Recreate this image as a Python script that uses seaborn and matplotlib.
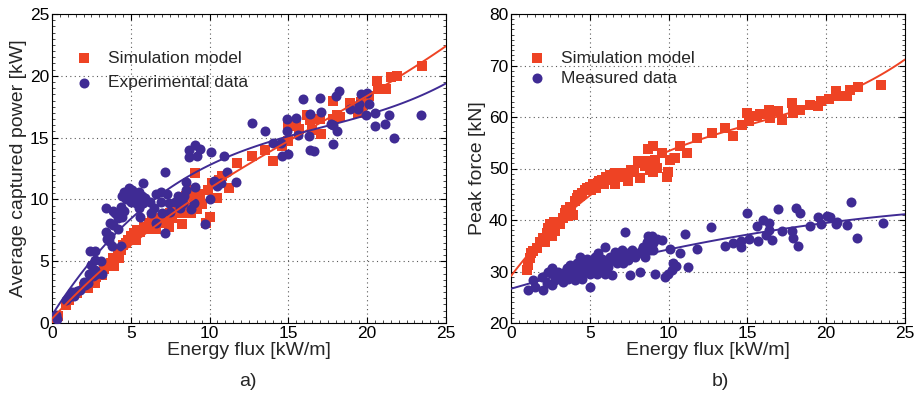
import numpy as np
import pandas as pd
import matplotlib
matplotlib.use("Agg")
import matplotlib.pyplot as plt
import seaborn as sns
from matplotlib.ticker import MultipleLocator

# --- datos ---
# a) potencia media capturada [kW] vs flujo de energia [kW/m]
sim_a_x = [0.15, 0.36, 0.89, 1.1, 1.6, 2.05, 2.26, 2.47, 2.7, 2.78,
           3.2, 3.3, 3.5, 3.73, 3.84, 3.94, 4.16, 4.27, 4.37, 4.48,
           4.68, 4.8, 5.0, 5.2, 5.3, 5.4, 5.6, 5.84, 6.05, 6.15,
           6.37, 6.6, 6.7, 6.9, 7.1, 7.2, 7.42, 7.5, 7.6, 7.85,
           7.95, 8.06, 8.16, 8.27, 8.48, 8.69, 8.8, 9.0, 9.1, 9.1,
           9.2, 9.4, 9.5, 9.75, 10.0, 9.9, 10.17, 10.5, 10.6, 10.8,
           11.2, 11.75, 12.7,
           13.5, 14.0, 14.6, 15.0, 15.0, 15.5, 15.7, 16.2, 16.4, 16.5,
           17.0, 17.1, 17.8, 17.8, 18.1, 18.3, 18.9, 19.4, 19.6, 19.7,
           19.9, 20.1, 20.6, 20.7, 21.2, 21.5, 21.9, 23.5]
sim_a_y = [0.38, 0.6, 1.46, 1.9, 2.4, 2.95, 2.8, 3.35, 3.2, 3.76,
           3.9, 4.4, 4.7, 4.84, 5.25, 4.6, 5.5, 5.25, 5.9, 6.3,
           6.46, 6.7, 7.0, 7.3, 6.7, 7.5, 7.4, 7.8, 7.6, 8.1,
           8.35, 7.6, 8.2, 8.5, 8.1, 8.75, 7.8, 8.9, 8.5, 9.16,
           9.56, 10.0, 8.9, 8.0, 10.24, 9.3, 8.9, 10.8, 12.1, 10.1,
           9.2, 10.4, 9.6, 8.1, 8.6, 10.8, 11.3, 10.1, 11.6, 11.9,
           10.9, 12.95, 13.5,
           14.0, 13.1, 14.3, 14.7, 16.06, 15.9, 15.7, 16.8, 16.4, 15.6,
           16.5, 15.3, 18.0, 16.5, 16.8, 16.7, 17.8, 17.0, 17.9, 17.5,
           18.1, 18.4, 19.6, 18.9, 18.9, 19.9, 20.0, 20.8]

exp_a_x = [0.25, 0.3, 0.9, 1.1, 1.3, 1.4, 1.6, 1.8, 2.05, 2.1,
           2.3, 2.36, 2.5, 2.6, 2.7, 2.4, 2.7, 2.7, 2.8, 3.1,
           3.2, 3.4, 3.4, 3.5, 3.6, 3.7, 3.8, 3.84, 3.7, 3.9,
           4.0, 4.2, 4.2, 4.37, 4.37, 4.47, 4.47, 4.57, 4.57, 4.68,
           4.78, 4.9, 4.9, 5.0, 5.1, 5.2, 5.3, 5.4, 5.5, 5.5,
           5.6, 5.6, 5.7, 5.8, 5.8, 5.9, 6.2, 6.3, 6.5, 6.6,
           6.6, 6.9, 7.0, 6.9, 7.2, 7.2, 7.3, 7.4, 7.5, 7.8,
           8.0, 8.1, 8.3, 8.4, 8.5, 8.5, 8.7, 8.7, 8.8, 9.0,
           9.1, 9.1, 9.2, 9.4, 9.7, 10.0, 10.1, 10.3, 10.5, 10.7,
           10.9, 11.1, 11.7, 12.7,
           13.5, 14.0, 14.5, 14.6, 14.9, 14.9, 15.0, 15.5, 15.6, 15.9,
           16.3, 16.4, 16.4, 16.6, 17.0, 17.1, 17.7, 17.8, 17.8, 18.0,
           18.1, 18.2, 18.9, 19.4, 19.5, 19.6, 19.9, 20.0, 20.1, 20.5,
           20.5, 21.1, 21.4, 21.7, 23.4]
exp_a_y = [0.65, 0.3, 1.86, 2.1, 2.5, 2.2, 2.6, 2.7, 3.35, 3.1,
           3.2, 4.0, 4.7, 3.8, 4.3, 5.8, 5.8, 5.1, 4.0, 5.0,
           4.0, 7.4, 9.3, 6.8, 6.6, 7.0, 6.2, 7.95, 8.1, 9.1,
           8.9, 8.5, 7.6, 9.4, 6.2, 10.24, 8.6, 10.6, 9.1, 10.0,
           10.6, 10.24, 10.9, 9.8, 10.8, 10.1, 9.7, 10.24, 10.6, 9.3,
           9.8, 8.6, 10.3, 11.3, 9.7, 10.1, 9.8, 8.9, 9.3, 8.1,
           10.4, 10.6, 8.9, 9.8, 12.2, 7.3, 10.4, 9.7, 9.0, 9.8,
           10.24, 9.3, 9.7, 10.3, 11.4, 10.8, 14.0, 13.4, 9.2, 9.7,
           11.0, 14.4, 13.5, 14.1, 8.0, 10.0, 13.8, 11.5, 11.1, 11.3,
           13.5, 12.2, 11.4, 16.2,
           15.5, 14.6, 14.6, 13.5, 16.5, 15.5, 13.7, 16.6, 15.2, 18.1,
           15.1, 16.9, 14.0, 13.9, 18.2, 17.1, 16.1, 14.5, 16.0, 18.4,
           15.5, 18.8, 17.3, 17.3, 17.7, 18.5, 16.8, 18.6, 17.7, 15.9,
           17.0, 16.1, 16.8, 15.0, 16.8]

# b) fuerza pico [kN] vs flujo de energia [kW/m]
sim_b_x = [1.0, 1.1, 1.2, 1.3, 1.4, 1.63, 1.84, 2.05, 2.16, 2.27,
           2.37, 2.48, 2.6, 2.7, 2.8, 2.9, 3.1, 3.3, 3.4, 3.5,
           3.6, 3.75, 3.8, 3.95, 4.05, 4.17, 4.27, 4.37, 4.48, 4.7,
           4.8, 5.0, 5.1, 5.2, 5.4, 5.5, 5.6, 5.8, 5.9, 6.05,
           6.26, 6.37, 6.6, 6.6, 6.8, 7.0, 7.1, 7.3, 7.4, 7.6,
           7.8, 8.08, 8.2, 8.3, 8.5, 8.6, 8.7, 8.8, 8.9, 9.0,
           9.04, 9.14, 9.25, 9.57, 9.88, 9.99, 10.1, 10.4, 10.73, 11.15,
           11.79, 12.74, 13.58, 14.1, 14.65, 14.96, 15.07, 15.6, 15.8, 16.34,
           16.45, 16.97, 17.2, 17.8, 17.9, 18.35, 19.0, 19.5, 19.7, 20.15,
           20.6, 20.7, 21.3, 21.5, 22.0, 23.5]
sim_b_y = [30.3, 31.2, 32.6, 33.6, 33.9, 34.5, 35.8, 36.5, 35.8, 37.5,
           38.5, 39.2, 36.8, 39.7, 37.8, 39.2, 39.2, 40.4, 41.4, 42.0,
           40.8, 42.6, 41.7, 41.0, 43.6, 44.3, 44.9, 44.6, 45.3, 45.9,
           46.2, 46.5, 45.9, 46.9, 46.2, 47.2, 47.5, 47.8, 46.9, 48.4,
           48.8, 47.8, 46.9, 49.1, 48.8, 49.1, 48.4, 49.1, 47.5, 49.7,
           49.4, 51.4, 48.1, 51.1, 50.4, 51.4, 53.7, 49.7, 50.8, 49.4,
           54.3, 51.7, 50.1, 53.0, 48.4, 49.4, 51.7, 52.0, 54.3, 53.0,
           55.9, 56.9, 57.9, 56.4, 58.5, 60.8, 59.2, 60.1, 60.5, 61.4,
           59.8, 61.1, 59.5, 62.7, 60.8, 61.4, 62.4, 62.1, 63.2, 63.5,
           65.1, 64.0, 64.0, 65.3, 65.8, 66.3]

meas_b_x = [1.1, 1.42, 1.52, 1.95, 2.05, 2.26, 2.37, 2.58, 2.58, 2.69,
            2.79, 3.0, 3.2, 3.3, 3.43, 3.53, 3.64, 3.75, 3.85, 3.96,
            4.06, 4.17, 4.27, 4.38, 4.38, 4.49, 4.59, 4.7, 4.8, 4.91,
            5.02, 5.02, 5.12, 5.23, 5.33, 5.44, 5.54, 5.54, 5.65, 5.76,
            5.86, 5.97, 5.97, 6.07, 6.18, 6.29, 6.39, 6.5, 6.6, 6.7,
            6.92, 7.03, 7.13, 7.24, 7.34, 7.45, 7.56, 7.66, 7.87, 8.08,
            8.19, 8.3, 8.4, 8.5, 8.6, 8.7, 8.8, 8.93, 9.04, 9.14,
            9.25, 9.57, 9.04, 9.78, 9.99, 10.2, 10.3, 10.5, 10.1, 10.7,
            11.05, 11.2, 11.8, 12.7, 13.6, 14.1, 14.6, 14.6, 14.96, 15.07,
            15.6, 15.7, 16.0, 16.2, 16.4, 16.4, 16.55, 16.97, 17.2, 17.8,
            17.9, 18.1, 18.2, 18.35, 19.0, 19.5, 19.7, 20.05, 20.25, 20.6,
            20.7, 21.3, 21.6, 21.95, 23.6]
meas_b_y = [26.4, 28.3, 27.0, 29.0, 26.4, 27.7, 29.9, 30.6, 27.3, 29.6,
            28.3, 29.9, 29.0, 28.0, 29.9, 30.6, 28.6, 31.2, 29.3, 30.3,
            28.3, 31.6, 29.6, 32.9, 30.6, 28.6, 31.2, 29.9, 32.5, 30.9,
            27.0, 29.6, 32.2, 30.6, 32.9, 29.6, 33.5, 31.6, 30.6, 32.5,
            31.2, 34.8, 29.6, 31.9, 30.9, 32.9, 29.3, 32.2, 33.8, 31.6,
            32.9, 34.2, 31.6, 37.7, 33.5, 32.2, 29.3, 34.2, 32.9, 33.5,
            29.9, 34.2, 34.8, 32.9, 35.8, 36.8, 34.2, 36.8, 35.5, 29.6,
            36.4, 36.1, 34.2, 29.0, 29.6, 30.3, 31.6, 31.0, 34.3, 33.6,
            37.2, 30.8, 34.3, 38.6, 34.9, 35.6, 35.9, 34.7, 41.4, 36.4,
            38.9, 35.9, 40.0, 37.1, 39.5, 38.1, 36.1, 42.1, 37.9, 37.9,
            36.6, 42.3, 34.9, 41.3, 38.8, 40.6, 39.2, 40.8, 40.6, 39.2,
            39.7, 39.0, 43.4, 36.6, 39.35]

rojo = "#EE4324"
azul = "#3F2B94"

sns.set_style("ticks")
plt.rcParams["font.family"] = ["Liberation Sans", "DejaVu Sans"]
plt.rcParams["axes.linewidth"] = 0.8

fig = plt.figure(figsize=(9.18, 4.01), dpi=100)
ax1 = fig.add_axes([52 / 918, 1 - 323 / 401, 394 / 918, 309 / 401])
ax2 = fig.add_axes([511 / 918, 1 - 323 / 401, 394 / 918, 309 / 401])


def panel(ax, sx, sy, ox, oy, ylim, ystep, ylabel, lab2, legy, legspace):
    ax.set_xlim(0, 25)
    ax.set_ylim(*ylim)
    sim = pd.DataFrame({"x": sx, "y": sy})
    obs = pd.DataFrame({"x": ox, "y": oy})
    sns.scatterplot(data=sim, x="x", y="y", marker="s", color=rojo, s=48,
                    linewidth=0, label="Simulation model", ax=ax, zorder=3)
    sns.scatterplot(data=obs, x="x", y="y", marker="o", color=azul, s=52,
                    linewidth=0, label=lab2, ax=ax, zorder=3)
    # ajustes polinomicos
    sns.regplot(data=sim, x="x", y="y", order=3, scatter=False, ci=None,
                truncate=False, color=rojo, line_kws={"lw": 1.4, "zorder": 4}, ax=ax)
    sns.regplot(data=obs, x="x", y="y", order=3, scatter=False, ci=None,
                truncate=False, color=azul, line_kws={"lw": 1.4, "zorder": 4}, ax=ax)
    ax.set_xlim(0, 25)
    ax.set_ylim(*ylim)
    ax.xaxis.set_major_locator(MultipleLocator(5))
    ax.yaxis.set_major_locator(MultipleLocator(ystep))
    ax.xaxis.set_minor_locator(MultipleLocator(0.5))
    ax.yaxis.set_minor_locator(MultipleLocator(ystep / 10))
    ax.grid(True, which="major", linestyle=(0, (1, 3)), color="0.35", lw=0.8)
    ax.tick_params(which="both", direction="in", top=True, right=True,
                   labelsize=12.5, colors="black", pad=2)
    ax.tick_params(which="major", length=4, width=0.8)
    ax.tick_params(which="minor", length=2, width=0.5)
    for sp in ax.spines.values():
        sp.set_color("black")
    ax.set_xlabel("Energy flux [kW/m]", fontsize=14, labelpad=1)
    ax.set_ylabel(ylabel, fontsize=14, labelpad=2)
    ax.legend(loc="upper left", bbox_to_anchor=(legy[0], legy[1]), frameon=False,
              fontsize=12.5, handlelength=1.0, handletextpad=0.9, borderpad=0,
              borderaxespad=0, labelspacing=legspace, scatterpoints=1)


panel(ax1, sim_a_x, sim_a_y, exp_a_x, exp_a_y, (0, 25), 5,
      "Average captured power [kW]", "Experimental data", (0.058, 0.882), 0.55)
panel(ax2, sim_b_x, sim_b_y, meas_b_x, meas_b_y, (20, 80), 10,
      "Peak force [kN]", "Measured data", (0.044, 0.882), 0.3)

fig.text(248 / 918, 1 - 381 / 401, "a)", ha="center", va="center", fontsize=14)
fig.text(720 / 918, 1 - 381 / 401, "b)", ha="center", va="center", fontsize=14)

fig.savefig("out.png", dpi=100)
